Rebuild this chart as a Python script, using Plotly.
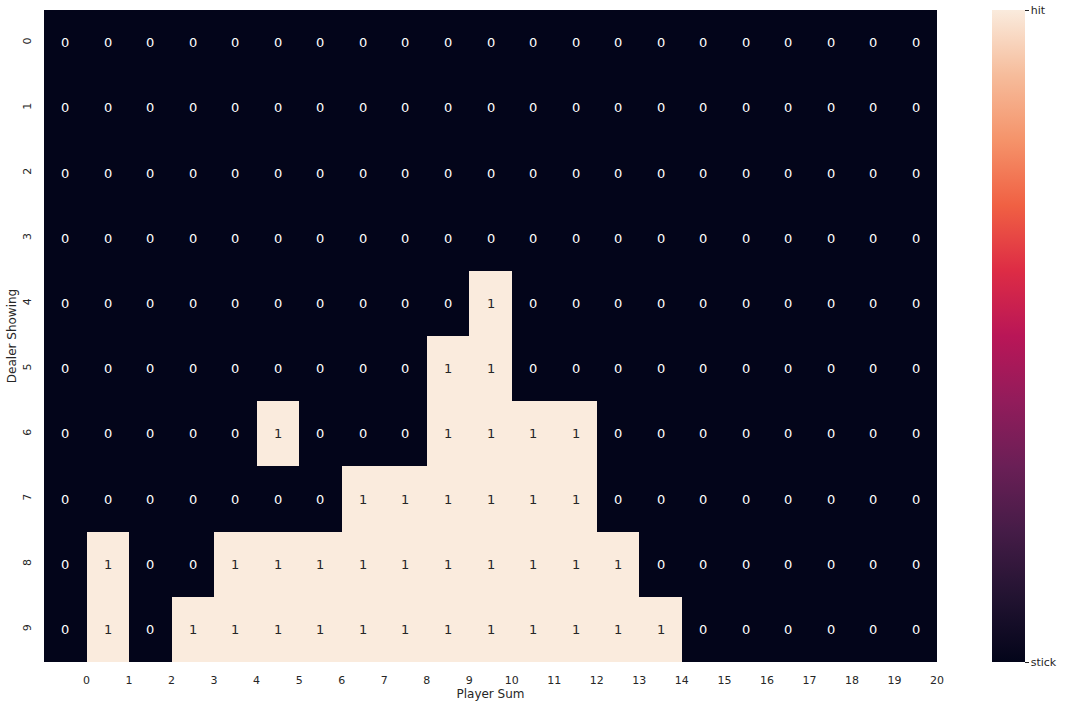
import plotly.graph_objects as go

dealer_showing = list(range(10))
player_sum = list(range(21))
tick_labels_x = [str(i) for i in range(21)]
tick_labels_y = [str(i) for i in range(10)]
cbar_labels = ["stick", "hit"]

policy = [
    [0]*21,
    [0]*21,
    [0]*21,
    [0]*21,
    [0,0,0,0,0,0,0,0,0,0,1,0,0,0,0,0,0,0,0,0,0],
    [0,0,0,0,0,0,0,0,0,1,1,0,0,0,0,0,0,0,0,0,0],
    [0,0,0,0,0,1,0,0,0,1,1,1,1,0,0,0,0,0,0,0,0],
    [0,0,0,0,0,0,0,1,1,1,1,1,1,0,0,0,0,0,0,0,0],
    [0,1,0,0,1,1,1,1,1,1,1,1,1,1,0,0,0,0,0,0,0],
    [0,1,0,1,1,1,1,1,1,1,1,1,1,1,1,0,0,0,0,0,0],
]

rocket = [
    [0.0, "#03051A"], [0.1, "#221331"], [0.2, "#451C47"], [0.3, "#6A1F56"],
    [0.4, "#921C5B"], [0.5, "#B91657"], [0.6, "#DD2C45"], [0.7, "#F06043"],
    [0.8, "#F5936A"], [0.9, "#F6BC9B"], [1.0, "#FAEBDD"],
]

text_colors = [["#ffffff" if v < 0.5 else "#262626" for v in row] for row in policy]

W, H = 1067, 707
ML, MR, MT, MB = 44, 130, 10, 45
plot_w = W - ML - MR

fig = go.Figure()
fig.add_trace(go.Heatmap(
    z=policy, x=player_sum, y=dealer_showing,
    colorscale=rocket, zmin=0, zmax=1,
    showscale=True,
    colorbar=dict(
        tickvals=[0, 1], ticktext=cbar_labels,
        ticks="outside", ticklen=4, tickcolor="#262626",
        tickfont=dict(family="DejaVu Sans", size=11, color="#262626"),
        thickness=33, thicknessmode="pixels",
        len=1.0, lenmode="fraction", y=0.5, yanchor="middle",
        x=(992 - ML) / plot_w, xanchor="left", xpad=0, ypad=0, outlinewidth=0,
    ),
    hoverinfo="skip",
))

for r, row in enumerate(policy):
    for c, v in enumerate(row):
        fig.add_annotation(
            x=player_sum[c], y=dealer_showing[r], text=str(v), showarrow=False,
            font=dict(family="DejaVu Sans", size=13, color=text_colors[r][c]),
        )

fig.update_layout(
    width=W, height=H,
    margin=dict(l=ML, r=MR, t=MT, b=MB, autoexpand=False),
    paper_bgcolor="white", plot_bgcolor="white",
    font=dict(family="DejaVu Sans", color="#262626"),
    xaxis=dict(
        tickvals=[i + 0.5 for i in player_sum], ticktext=tick_labels_x,
        range=[-0.5, 20.5], showgrid=False, zeroline=False,
        ticks="outside", ticklen=8, tickcolor="rgba(0,0,0,0)",
        tickfont=dict(size=11, color="#262626"),
        title=dict(text="Player Sum", font=dict(size=12, color="#262626"), standoff=2),
        tickangle=0,
    ),
    yaxis=dict(
        tickvals=dealer_showing, ticktext=tick_labels_y,
        range=[9.5, -0.5], showgrid=False, zeroline=False, ticks="outside",
        ticklen=8, tickcolor="rgba(0,0,0,0)",
        tickfont=dict(size=11, color="#262626"), tickangle=-90,
        title=dict(text="Dealer Showing", font=dict(size=12, color="#262626"), standoff=1),
    ),
)

fig.write_html(
    "out.html",
    config={"displayModeBar": False},
    post_script="document.body.style.margin='0';document.body.style.overflow='hidden';",
)
